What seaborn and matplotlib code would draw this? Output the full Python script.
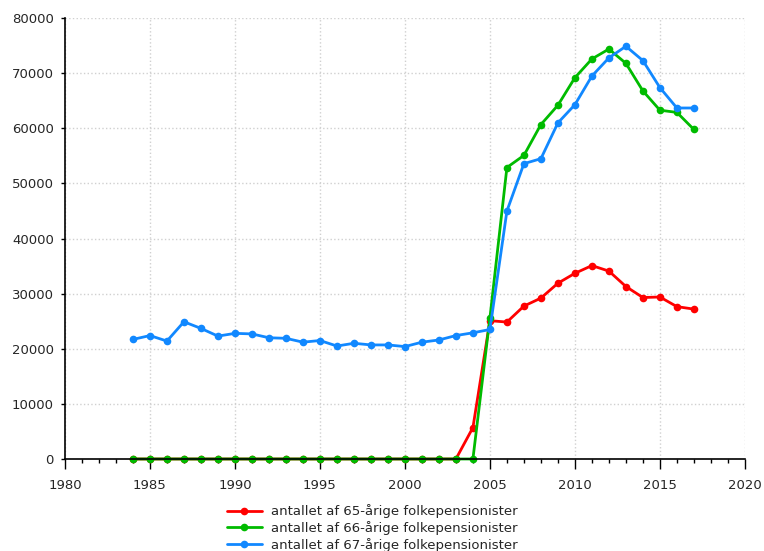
import numpy as np
import pandas as pd
import seaborn as sns
import matplotlib.pyplot as plt
from matplotlib.ticker import MultipleLocator

years = list(range(1984, 2018))

# antal folkepensionister efter alder
age65 = [0]*20 + [5700, 25100, 24850, 27750, 29200, 31900, 33700, 35100, 34100,
                  31300, 29300, 29400, 27650, 27200]
age66 = [0]*21 + [25600, 52900, 55100, 60700, 64200, 69200, 72600, 74400,
                  71800, 66800, 63300, 62900, 59800]
age67 = [21700, 22400, 21400, 24900, 23700, 22300, 22800, 22700, 22000, 21900,
         21200, 21500, 20500, 21000, 20700, 20700, 20400, 21200, 21600, 22400,
         22900, 23500, 45000, 53600, 54500, 61000, 64300, 69500, 72800, 74900,
         72300, 67400, 63700, 63700]

labels = ["antallet af 65-årige folkepensionister",
          "antallet af 66-årige folkepensionister",
          "antallet af 67-årige folkepensionister"]
colors = ["#ff0000", "#00bb00", "#1188ff"]

df = pd.DataFrame({"year": years * 3,
                   "value": age65 + age66 + age67,
                   "serie": [labels[0]]*len(years) + [labels[1]]*len(years) + [labels[2]]*len(years)})

sns.set_style("white")
plt.rcParams['font.family'] = ['DejaVu Sans']

fig = plt.figure(figsize=(7.64, 5.51), dpi=100)
ax = fig.add_axes([0.085, 0.167, 0.89, 0.800])

sns.lineplot(data=df, x="year", y="value", hue="serie", palette=colors,
             marker="o", markersize=5.5, markeredgewidth=0, linewidth=2,
             ax=ax, legend=True, clip_on=False)

ax.set_xlim(1980, 2020)
ax.set_ylim(0, 80000)
ax.xaxis.set_major_locator(MultipleLocator(5))
ax.xaxis.set_minor_locator(MultipleLocator(1))
ax.yaxis.set_major_locator(MultipleLocator(10000))
ax.grid(True, which="major", color="#d0d0d0", linestyle=":", linewidth=1)
ax.set_axisbelow(True)
ax.set_xlabel("")
ax.set_ylabel("")
for s in ["top", "right"]:
    ax.spines[s].set_visible(False)
for s in ["left", "bottom"]:
    ax.spines[s].set_color("black")
    ax.spines[s].set_linewidth(1.2)
ax.tick_params(axis="y", which="major", length=3, width=1, color="black",
               labelsize=9.5, direction="out", left=True, pad=5)
ax.tick_params(axis="x", which="major", length=7.2, width=1, color="black",
               labelsize=9.5, direction="out", bottom=True, pad=7)
ax.tick_params(axis="x", which="minor", length=3, width=1, color="black",
               direction="out", bottom=True)

ax.legend(loc="upper left", bbox_to_anchor=(0.238, -0.103), frameon=False,
          fontsize=9.5, handlelength=2.65, handletextpad=0.7,
          labelspacing=0.2, borderpad=0, borderaxespad=0)

fig.savefig("out.png", dpi=100)
